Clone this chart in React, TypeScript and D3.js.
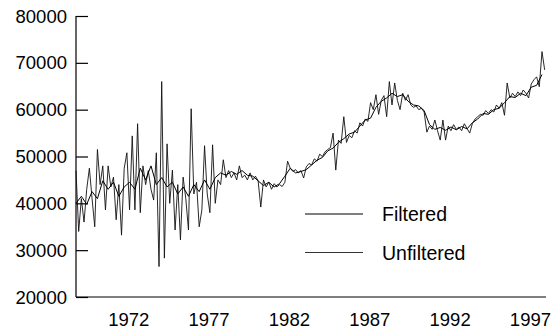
import React, { useEffect, useRef } from 'react';
import * as d3 from 'd3';

// both series are evenly sampled between these years (filtered at half the rate)
const START_YEAR = 1968.75;
const END_YEAR = 1997.917;
const AXIS_END_YEAR = 1998.0;

const unfiltered = [
  47000, 34000, 41000, 36000, 43000, 47500, 41000, 35000, 51500, 44000,
  48000, 38600, 48000, 43500, 45600, 36500, 44000, 33200, 47500, 50800,
  38600, 54400, 38600, 57000, 38000, 48000, 44000, 47000, 43000, 40700,
  50800, 26500, 66000, 28300, 52700, 40000, 47100, 34300, 44000, 32200,
  45600, 41000, 34300, 60200, 42000, 44500, 35000, 38600, 52300, 42000,
  38000, 52500, 40000, 45000, 44000, 49300, 45500, 47000, 45500, 46500,
  45000, 48000, 45500, 46000, 45000, 46500, 45000, 45800, 44800, 39200,
  45000, 43500, 44500, 43000, 44200, 43500, 44000, 43600, 44500, 49000,
  47500, 46800, 47200, 46500, 47000, 45400, 47800, 48500, 48200, 49500,
  49000, 50500, 50000, 51000, 51500, 51900, 55000, 47100, 53500, 52800,
  58500, 53000, 54500, 54000, 55500, 55000, 57200, 56500, 58000, 57500,
  61500, 60000, 63200, 59000, 62000, 63000, 58500, 66000, 61000, 65700,
  62000, 60000, 63500, 62000, 63200, 61000, 60500, 60800, 60000, 60300,
  59500, 55200, 56500, 55800, 57800, 55500, 53500, 57800, 53500, 56500,
  55500, 56800, 55800, 56300, 55500, 57000, 56000, 55000, 57000, 58000,
  58500, 59000, 58800, 59800, 59200, 60000, 59500, 61000, 60300, 61500,
  58800, 65700, 62500, 63500, 62800, 63800, 63000, 64200, 63500, 62500,
  65500, 66400, 67000, 64900, 72400, 68500,
];

const filtered = [
  40000, 41500, 39800, 42500, 41000, 44800, 43000, 44500, 41500, 43500,
  44500, 43000, 47500, 45000, 48000, 44000, 45500, 43500, 44500, 42000,
  43500, 41500, 44000, 42500, 45000, 43000, 45500, 46500, 46000, 46800,
  46200, 47000, 46000, 45800, 44800, 43800, 44500, 43500, 44200, 45800,
  47500, 46500, 46800, 47200, 48200, 49200, 49800, 51200, 51800, 53000,
  53800, 54800, 55200, 56500, 57800, 58200, 60500, 61800, 62500, 63500,
  62800, 63200, 61800, 61000, 60800, 59800, 56800, 55800, 56200, 55600,
  56300, 55700, 56400, 55900, 57200, 58000, 59200, 59000, 60000, 60300,
  61500, 62800, 62600, 63500, 63000, 64800, 65200, 67500,
];

const yTicks = [20000, 30000, 40000, 50000, 60000, 70000, 80000];
const xTickYears = [1972, 1977, 1982, 1987, 1992, 1997];
const seriesNames = ['Filtered', 'Unfiltered'];

const FONT = '"Liberation Sans", Arial, Helvetica, sans-serif';

const App: React.FC = () => {
  const svgRef = useRef<SVGSVGElement>(null);

  useEffect(() => {
    if (!svgRef.current) return;
    const svg = d3.select(svgRef.current);
    svg.selectAll('*').remove();

    const x = d3.scaleLinear().domain([START_YEAR, AXIS_END_YEAR]).range([76, 546]);
    const y = d3.scaleLinear().domain([20000, 80000]).range([297, 16]);

    const step = (END_YEAR - START_YEAR) / (unfiltered.length - 1);
    const unfPts = unfiltered.map((v, i) => [START_YEAR + i * step, v] as [number, number]);
    const filPts = filtered.map((v, i) => [START_YEAR + 2 * i * step, v] as [number, number]);

    const line = d3
      .line<[number, number]>()
      .x(d => x(d[0]))
      .y(d => y(d[1]));

    // y axis, ticks pointing into the plot
    const yAxis = svg.append('g').attr('transform', `translate(${x.range()[0]},0)`);
    yAxis
      .call(d3.axisRight(y).tickValues(yTicks).tickSize(12).tickFormat(d => String(d)))
      .call(g => g.selectAll('.tick text').remove());
    yAxis.select('.domain').attr('d', `M0,${y(80000)}V${y(20000)}`);
    yAxis.selectAll('line, path').attr('stroke', '#000').attr('stroke-width', 1.2);

    svg
      .append('g')
      .selectAll('text')
      .data(yTicks)
      .enter()
      .append('text')
      .attr('x', 67)
      .attr('y', d => y(d))
      .attr('dy', '0.36em')
      .attr('text-anchor', 'end')
      .style('font-family', FONT)
      .style('font-size', '18.5px')
      .attr('fill', '#000')
      .text(d => String(d));

    // x axis: plain line, labels only
    const xAxis = svg.append('g').attr('transform', `translate(0,${y(20000)})`);
    xAxis.call(
      d3.axisBottom(x).tickValues(xTickYears).tickSize(0).tickPadding(0).tickFormat(d => String(d))
    );
    xAxis
      .select('.domain')
      .attr('d', `M${x.range()[0]},0H${x.range()[1]}`)
      .attr('stroke', '#000')
      .attr('stroke-width', 1.2);
    xAxis
      .selectAll('.tick text')
      .attr('y', 29)
      .attr('dy', null)
      .style('font-family', FONT)
      .style('font-size', '18.5px')
      .attr('fill', '#000');

    // series
    svg
      .append('path')
      .datum(unfPts)
      .attr('d', line)
      .attr('fill', 'none')
      .attr('stroke', '#111')
      .attr('stroke-width', 0.9)
      .attr('stroke-linejoin', 'round');

    svg
      .append('path')
      .datum(filPts)
      .attr('d', line)
      .attr('fill', 'none')
      .attr('stroke', '#000')
      .attr('stroke-width', 1)
      .attr('stroke-linejoin', 'round');

    // legend
    const legend = svg
      .append('g')
      .selectAll('.legend')
      .data(seriesNames)
      .enter()
      .append('g')
      .attr('class', 'legend')
      .attr('transform', (d, i) => `translate(305, ${214 + i * 38.5})`);

    legend
      .append('line')
      .attr('x1', 0)
      .attr('x2', 58)
      .attr('stroke', (d, i) => (i === 0 ? '#000' : '#333'))
      .attr('stroke-width', (d, i) => (i === 0 ? 1.2 : 1));

    legend
      .append('text')
      .attr('x', 77)
      .attr('dy', '0.36em')
      .style('font-family', FONT)
      .style('font-size', '19.5px')
      .attr('fill', '#000')
      .text(d => d);
  }, []);

  return (
    <svg
      ref={svgRef}
      width={555}
      height={329}
      style={{ position: 'absolute', left: 0, top: 0, background: '#fff', display: 'block' }}
    />
  );
};

export default App;
